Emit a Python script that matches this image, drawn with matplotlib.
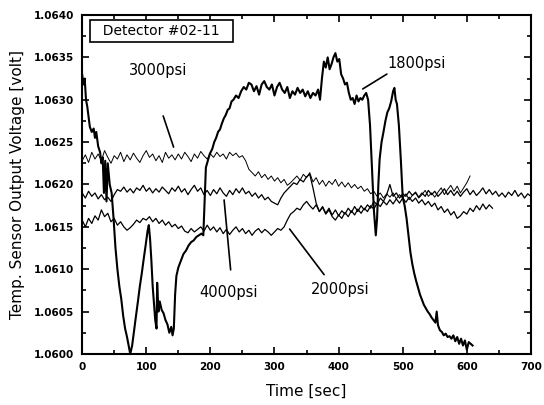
import numpy as np
import matplotlib
matplotlib.use("Agg")
import matplotlib.pyplot as plt
from matplotlib.ticker import MultipleLocator, FormatStrFormatter

# ---- Data ----
# 1800 psi run: irregular sampling
t_1800 = [0, 2, 4, 6, 8, 10, 12, 15, 18, 20, 22, 25, 28, 30, 32, 34, 36, 38, 40, 43,
          46, 49, 52, 55, 58, 61, 64, 67, 70, 73, 75, 78, 81, 84, 87, 90, 93, 96, 99, 102,
          104, 106, 108, 110, 112, 114, 116, 117, 119, 121, 124, 127, 130, 133, 136, 139, 141, 143, 145, 147,
          150, 154, 158, 162, 166, 170, 174, 178, 182, 186, 189, 191, 193, 196, 199, 203, 206, 209, 212, 215,
          218, 221, 224, 227, 230, 233, 236, 240, 244, 248, 252, 256, 260, 264, 268, 272, 276, 280, 284, 288,
          292, 296, 300, 304, 308, 312, 316, 320, 324, 328, 332, 336, 340, 344, 348, 352, 356, 360, 364, 368,
          371, 374, 377, 380, 383, 386, 389, 392, 395, 398, 401, 404, 407, 410, 413, 416, 419, 422, 425, 428,
          431, 434, 437, 440, 443, 446, 449, 452, 455, 458, 460, 462, 464, 467, 470, 473, 476, 479, 482, 485,
          487, 489, 491, 494, 497, 500, 503, 506, 509, 512, 515, 518, 521, 524, 527, 530, 533, 536, 539, 542,
          545, 548, 551, 553, 555, 558, 561, 564, 567, 570, 573, 576, 579, 582, 585, 588, 591, 594, 597, 600,
          603, 606, 609]
v_1800 = [1.06330, 1.06318, 1.06325, 1.06300, 1.06292, 1.06280, 1.06268, 1.06262, 1.06266, 1.06255,
          1.06262, 1.06245, 1.06238, 1.06225, 1.06232, 1.06190, 1.06228, 1.06180, 1.06225, 1.06200,
          1.06190, 1.06160, 1.06125, 1.06100, 1.06080, 1.06065, 1.06045, 1.06030, 1.06020, 1.06008,
          1.06000, 1.06010, 1.06028, 1.06045, 1.06062, 1.06080, 1.06095, 1.06112, 1.06128, 1.06145,
          1.06152, 1.06135, 1.06110, 1.06080, 1.06060, 1.06040, 1.06030, 1.06084, 1.06050, 1.06062,
          1.06052, 1.06048, 1.06040, 1.06035, 1.06025, 1.06032, 1.06022, 1.06030, 1.06070, 1.06092,
          1.06102, 1.06110, 1.06118, 1.06122, 1.06128, 1.06132, 1.06134, 1.06138, 1.06140, 1.06142,
          1.06140, 1.06180, 1.06220, 1.06228, 1.06236, 1.06242, 1.06250, 1.06255, 1.06262, 1.06265,
          1.06272, 1.06278, 1.06282, 1.06288, 1.06290, 1.06298, 1.06300, 1.06305, 1.06302, 1.06310,
          1.06315, 1.06312, 1.06320, 1.06318, 1.06310, 1.06316, 1.06306, 1.06318, 1.06322, 1.06315,
          1.06312, 1.06318, 1.06305, 1.06315, 1.06320, 1.06312, 1.06308, 1.06315, 1.06302, 1.06310,
          1.06306, 1.06314, 1.06308, 1.06312, 1.06304, 1.06310, 1.06302, 1.06308, 1.06305, 1.06312,
          1.06300, 1.06325, 1.06345, 1.06338, 1.06350, 1.06336, 1.06342, 1.06350, 1.06355, 1.06345,
          1.06348, 1.06330, 1.06325, 1.06318, 1.06320, 1.06308, 1.06300, 1.06302, 1.06295, 1.06305,
          1.06298, 1.06302, 1.06300, 1.06305, 1.06308, 1.06300, 1.06270, 1.06220, 1.06170, 1.06140,
          1.06160, 1.06200, 1.06230, 1.06250, 1.06262, 1.06275, 1.06285, 1.06290, 1.06298, 1.06310,
          1.06314, 1.06300, 1.06295, 1.06270, 1.06230, 1.06185, 1.06175, 1.06160, 1.06140, 1.06120,
          1.06106, 1.06095, 1.06086, 1.06078, 1.06070, 1.06064, 1.06058, 1.06054, 1.06050, 1.06047,
          1.06043, 1.06040, 1.06037, 1.06050, 1.06034, 1.06028, 1.06026, 1.06022, 1.06024, 1.06020,
          1.06021, 1.06018, 1.06022, 1.06015, 1.06020, 1.06012, 1.06018, 1.06010, 1.06016, 1.06005,
          1.06014, 1.06012, 1.06010]

# other runs: one reading every 5 s from t = 0
v_3000 = [1.06228, 1.06235, 1.06226, 1.06238, 1.06230, 1.06236, 1.06228, 1.06240, 1.06232, 1.06225,
          1.06234, 1.06230, 1.06238, 1.06227, 1.06235, 1.06229, 1.06237, 1.06231, 1.06226, 1.06234,
          1.06240, 1.06232, 1.06236, 1.06228, 1.06234, 1.06226, 1.06238, 1.06231, 1.06235, 1.06229,
          1.06236, 1.06230, 1.06238, 1.06233, 1.06227, 1.06236, 1.06231, 1.06239, 1.06234, 1.06230,
          1.06236, 1.06232, 1.06238, 1.06233, 1.06236, 1.06230, 1.06238, 1.06234, 1.06237, 1.06232,
          1.06234, 1.06228, 1.06218, 1.06214, 1.06210, 1.06215, 1.06208, 1.06212, 1.06206, 1.06210,
          1.06204, 1.06208, 1.06202, 1.06206, 1.06199, 1.06202, 1.06206, 1.06210, 1.06205, 1.06212,
          1.06208, 1.06214, 1.06203, 1.06208, 1.06200, 1.06205, 1.06198, 1.06204, 1.06200, 1.06206,
          1.06198, 1.06203, 1.06197, 1.06202, 1.06196, 1.06200, 1.06195, 1.06198, 1.06192, 1.06195,
          1.06189, 1.06192, 1.06186, 1.06190, 1.06184, 1.06189, 1.06185, 1.06190, 1.06183, 1.06188,
          1.06184, 1.06189, 1.06182, 1.06187, 1.06190, 1.06184, 1.06188, 1.06193, 1.06186, 1.06190,
          1.06185, 1.06191, 1.06196, 1.06188, 1.06194, 1.06199, 1.06192, 1.06198, 1.06190, 1.06196,
          1.06202, 1.06210]

v_4000 = [1.06190, 1.06184, 1.06192, 1.06186, 1.06190, 1.06183, 1.06188, 1.06182, 1.06185, 1.06180,
          1.06188, 1.06194, 1.06192, 1.06197, 1.06191, 1.06195, 1.06190, 1.06196, 1.06193, 1.06199,
          1.06192, 1.06196, 1.06190, 1.06195, 1.06191, 1.06197, 1.06193, 1.06189, 1.06196, 1.06192,
          1.06198, 1.06191, 1.06195, 1.06188, 1.06194, 1.06199, 1.06192, 1.06196, 1.06188, 1.06193,
          1.06187, 1.06194, 1.06189, 1.06196, 1.06190, 1.06186, 1.06193, 1.06188, 1.06195, 1.06190,
          1.06196, 1.06189, 1.06192, 1.06186, 1.06190, 1.06184, 1.06188, 1.06182, 1.06185, 1.06180,
          1.06178, 1.06176, 1.06184, 1.06190, 1.06194, 1.06198, 1.06202, 1.06200, 1.06206, 1.06203,
          1.06209, 1.06212, 1.06196, 1.06178, 1.06168, 1.06174, 1.06166, 1.06172, 1.06164, 1.06170,
          1.06163, 1.06169, 1.06165, 1.06172, 1.06167, 1.06174, 1.06168, 1.06175, 1.06170, 1.06176,
          1.06172, 1.06180, 1.06176, 1.06184, 1.06180, 1.06188, 1.06200, 1.06186, 1.06190, 1.06184,
          1.06189, 1.06186, 1.06192, 1.06187, 1.06191, 1.06185, 1.06190, 1.06186, 1.06193, 1.06188,
          1.06192, 1.06186, 1.06190, 1.06195, 1.06188, 1.06193, 1.06187, 1.06192, 1.06186, 1.06191,
          1.06195, 1.06188, 1.06193, 1.06187, 1.06191, 1.06196, 1.06189, 1.06194, 1.06188, 1.06192,
          1.06186, 1.06190, 1.06185, 1.06191, 1.06187, 1.06193, 1.06186, 1.06190, 1.06184, 1.06189,
          1.06186]

v_2000 = [1.06158, 1.06150, 1.06160, 1.06154, 1.06163, 1.06158, 1.06170, 1.06162, 1.06166, 1.06156,
          1.06160, 1.06152, 1.06156, 1.06150, 1.06146, 1.06149, 1.06153, 1.06158, 1.06155, 1.06160,
          1.06158, 1.06162, 1.06156, 1.06160, 1.06154, 1.06158, 1.06152, 1.06156, 1.06150, 1.06153,
          1.06148, 1.06151, 1.06145, 1.06143, 1.06148, 1.06144, 1.06147, 1.06150, 1.06145, 1.06152,
          1.06146, 1.06150, 1.06144, 1.06149, 1.06142, 1.06147, 1.06141, 1.06146, 1.06150, 1.06144,
          1.06148, 1.06142, 1.06146, 1.06140, 1.06145, 1.06148, 1.06143, 1.06147, 1.06144, 1.06140,
          1.06144, 1.06148, 1.06146, 1.06150, 1.06158, 1.06165, 1.06168, 1.06172, 1.06170, 1.06176,
          1.06180, 1.06175, 1.06171, 1.06176, 1.06168, 1.06173, 1.06165, 1.06170, 1.06162, 1.06158,
          1.06164, 1.06160, 1.06167, 1.06162, 1.06169, 1.06164, 1.06171, 1.06166, 1.06172, 1.06168,
          1.06175, 1.06171, 1.06178, 1.06174, 1.06180, 1.06176, 1.06182, 1.06177, 1.06183, 1.06178,
          1.06184, 1.06179, 1.06185, 1.06180, 1.06184, 1.06178, 1.06182, 1.06176, 1.06180, 1.06174,
          1.06178, 1.06170, 1.06174, 1.06167, 1.06171, 1.06164, 1.06168, 1.06160, 1.06163, 1.06168,
          1.06165, 1.06172, 1.06168, 1.06175, 1.06170, 1.06177, 1.06171, 1.06176, 1.06172]

t_3000 = np.arange(len(v_3000)) * 5
t_4000 = np.arange(len(v_4000)) * 5
t_2000 = np.arange(len(v_2000)) * 5

# ---- Plot ----
fig = plt.figure(figsize=(5.44, 4.05), dpi=100)
ax = fig.add_axes([0.151, 0.126, 0.825, 0.837])

ax.plot(t_3000, v_3000, color="black", linewidth=0.7)
ax.plot(t_4000, v_4000, color="black", linewidth=0.9)
ax.plot(t_2000, v_2000, color="black", linewidth=0.9)
ax.plot(t_1800, v_1800, color="black", linewidth=1.5)

ax.set_xlim(0, 700)
ax.set_ylim(1.0600, 1.0640)
ax.xaxis.set_major_locator(MultipleLocator(100))
ax.xaxis.set_minor_locator(MultipleLocator(50))
ax.yaxis.set_major_locator(MultipleLocator(0.0005))
ax.yaxis.set_minor_locator(MultipleLocator(0.00025))
ax.yaxis.set_major_formatter(FormatStrFormatter("%.4f"))
ax.tick_params(which="both", direction="in", top=True, right=True, width=1.2)
ax.tick_params(which="major", length=5, labelsize=7.5, pad=6)
ax.tick_params(which="minor", length=3)
for lab in ax.get_xticklabels() + ax.get_yticklabels():
    lab.set_fontweight("bold")
for sp in ax.spines.values():
    sp.set_linewidth(1.5)

ax.set_xlabel("Time [sec]", fontsize=11, labelpad=8)
ax.set_ylabel("Temp. Sensor Output Voltage [volt]", fontsize=11, labelpad=6)

# ---- Labels ----
ax.text(124, 1.06381, "  Detector #02-11  ", fontsize=10, ha="center", va="center",
        bbox=dict(boxstyle="square,pad=0.3", facecolor="white", edgecolor="black", linewidth=1.2))

ax.text(119, 1.06334, "3000psi", fontsize=10.5, ha="center", va="center")
ax.annotate("", xy=(144, 1.06241), xytext=(125, 1.06284),
            arrowprops=dict(arrowstyle="-", color="black", lw=1.2))

ax.text(521, 1.06343, "1800psi", fontsize=10.5, ha="center", va="center")
ax.annotate("", xy=(434, 1.06311), xytext=(479, 1.06332),
            arrowprops=dict(arrowstyle="-", color="black", lw=1.2))

ax.text(229, 1.06073, "4000psi", fontsize=10.5, ha="center", va="center")
ax.annotate("", xy=(221, 1.06185), xytext=(232, 1.06096),
            arrowprops=dict(arrowstyle="-", color="black", lw=1.2))

ax.text(402, 1.06076, "2000psi", fontsize=10.5, ha="center", va="center")
ax.annotate("", xy=(321, 1.06150), xytext=(380, 1.06091),
            arrowprops=dict(arrowstyle="-", color="black", lw=1.2))

fig.savefig("out.png", dpi=100)
